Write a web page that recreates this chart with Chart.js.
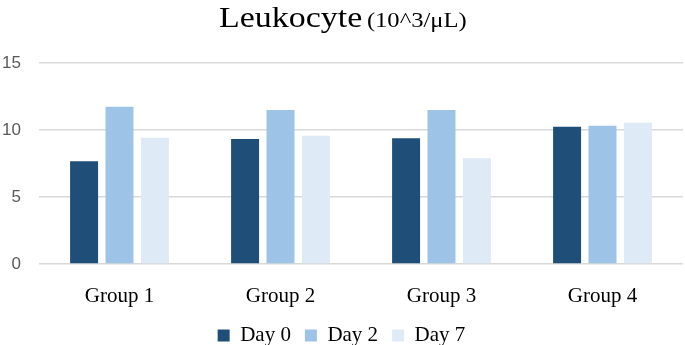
<!DOCTYPE html>
<html>
<head>
<meta charset="utf-8">
<script src="https://cdn.jsdelivr.net/npm/chart.js@4"></script>
<style>
  body { margin: 0; background: #fff; }
  #wrap { position: relative; width: 685px; height: 345px; overflow: hidden; }
  #title {
    position: absolute; top: 0; left: 0; width: 100%;
    text-align: center; font-family: "Liberation Serif", serif;
    color: #000; line-height: 34px;
  }
  #title .inner { display: inline-block; transform: scaleX(1.17); transform-origin: center; }
  #title .big { font-size: 29px; }
  #title .small { font-size: 21px; }
</style>
</head>
<body>
<div id="wrap">
  <canvas id="leukoChart" width="685" height="345"></canvas>
  <div id="title"><span class="inner"><span class="big">Leukocyte</span> <span class="small">(10^3/μL)</span></span></div>
</div>
<script>
const groups = ['Group 1', 'Group 2', 'Group 3', 'Group 4'];
const day0 = [7.67, 9.33, 9.38, 10.24];
const day2 = [11.73, 11.5, 11.5, 10.32];
const day7 = [9.43, 9.58, 7.89, 10.54];
const yTicks = [0, 5, 10, 15];

const serif = '"Liberation Serif", "Times New Roman", serif';

const ctx = document.getElementById('leukoChart').getContext('2d');
new Chart(ctx, {
    type: 'bar',
    data: {
        labels: groups,
        datasets: [
            { label: 'Day 0', data: day0, backgroundColor: '#1f4e79' },
            { label: 'Day 2', data: day2, backgroundColor: '#9dc3e6' },
            { label: 'Day 7', data: day7, backgroundColor: '#deebf7' }
        ]
    },
    options: {
        responsive: false,
        animation: false,
        layout: { padding: { top: 63, right: 2, left: 0, bottom: -11 } },
        datasets: {
            bar: { categoryPercentage: 0.66, barPercentage: 0.79 }
        },
        plugins: {
            title: { display: false },
            tooltip: { enabled: false },
            legend: {
                position: 'bottom',
                labels: {
                    boxWidth: 12, boxHeight: 12, padding: 14,
                    color: '#000',
                    font: { family: serif, size: 21 }
                }
            }
        },
        scales: {
            x: {
                grid: { display: false },
                border: { display: false },
                ticks: { color: '#000', font: { family: serif, size: 21 }, padding: 12 },
                afterFit: axis => { axis.height = 47; }
            },
            y: {
                min: 0, max: 15,
                afterBuildTicks: axis => { axis.ticks = yTicks.map(v => ({ value: v })); },
                afterFit: axis => { axis.width = 39; },
                grid: { color: '#d9d9d9', lineWidth: 1.5, drawTicks: false },
                border: { display: false },
                ticks: { color: '#595959', font: { family: '"Liberation Sans", sans-serif', size: 17 }, padding: 18 }
            }
        }
    }
});
</script>
</body>
</html>
